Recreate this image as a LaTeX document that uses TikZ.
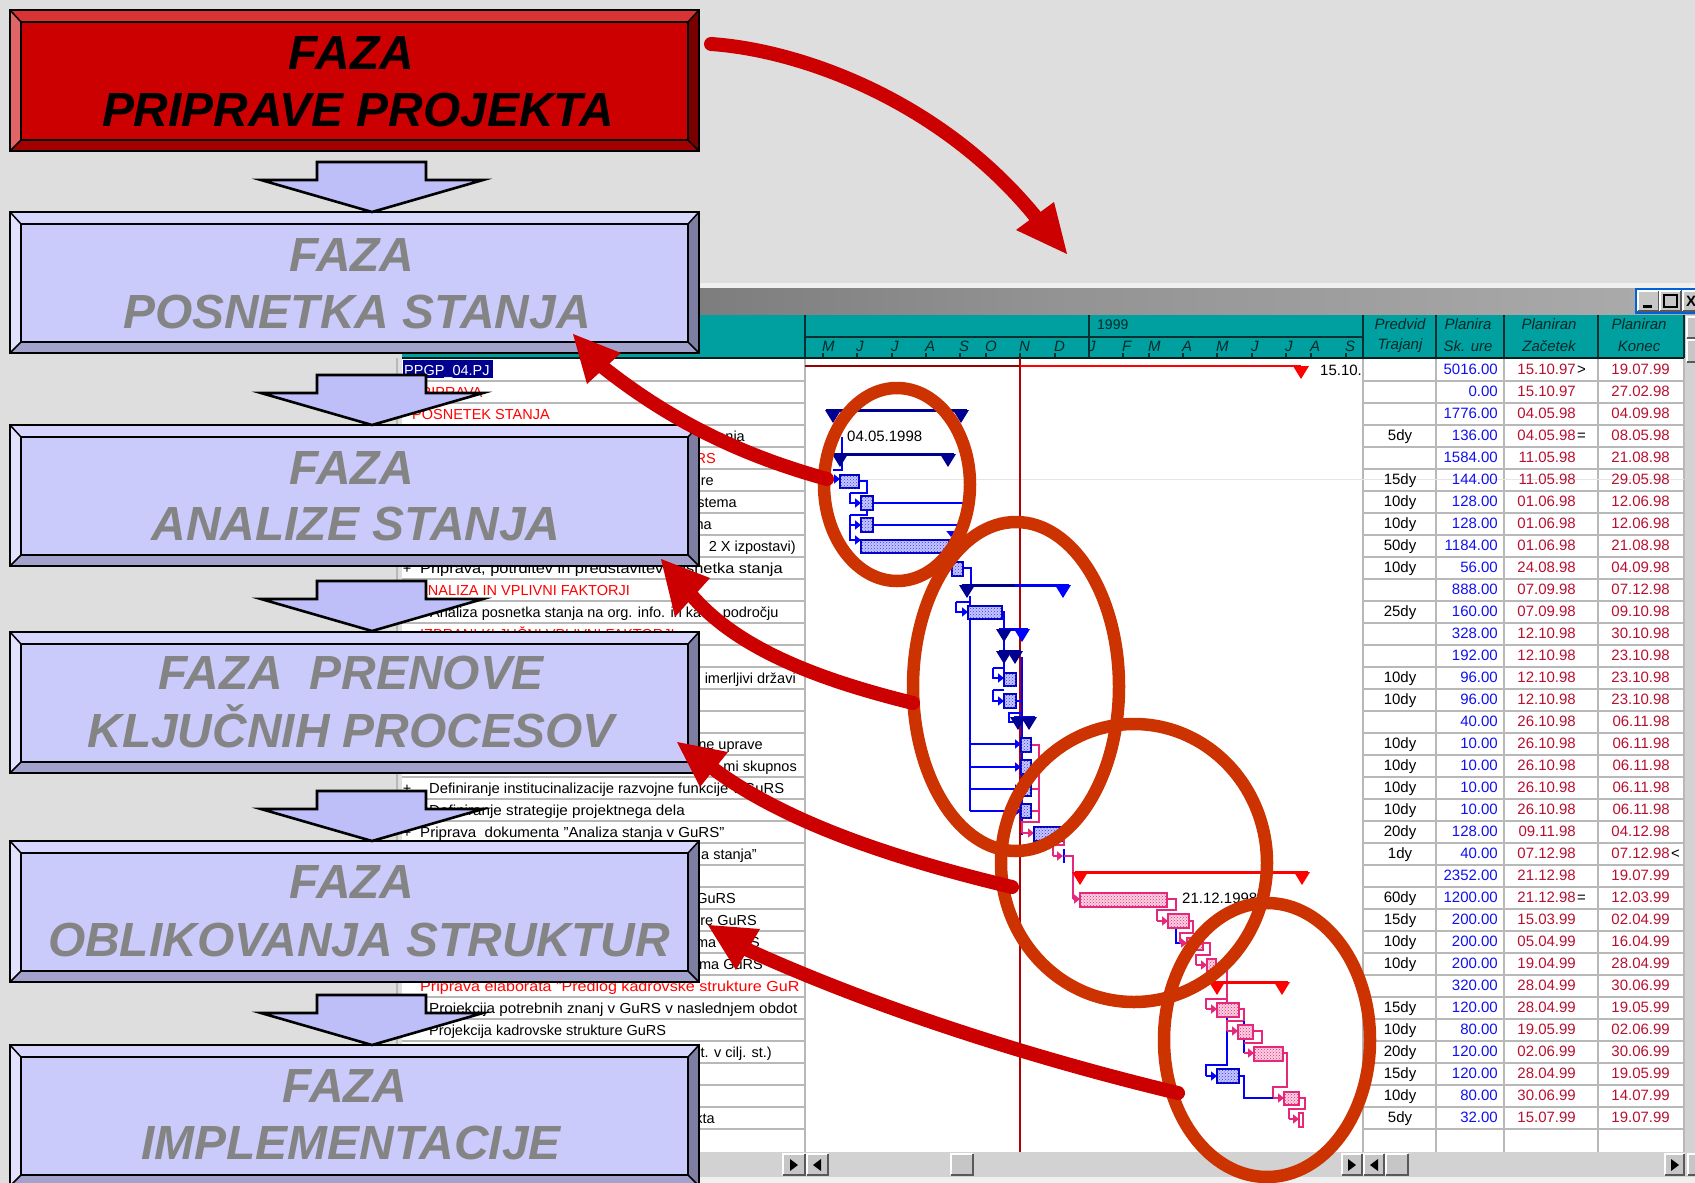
\documentclass[tikz,border=0pt]{standalone}
\usepackage{fontspec}
\setmainfont{Liberation Sans}
\usetikzlibrary{arrows.meta,patterns,calc}
\definecolor{bgc}{HTML}{DEDEDE}
\definecolor{teal1}{HTML}{00A0A0}
\definecolor{gridc}{HTML}{B8B8B8}
\definecolor{numc}{HTML}{1010F0}
\definecolor{datec}{HTML}{B81030}
\definecolor{hdrc}{HTML}{052828}
\definecolor{navyc}{HTML}{000090}
\definecolor{pinkc}{HTML}{E6287A}
\definecolor{ringc}{HTML}{CC3300}
\definecolor{redc}{HTML}{CC0000}
\definecolor{arrowf}{HTML}{BEBEF8}
\definecolor{facep}{HTML}{CACAFB}
\definecolor{topp}{HTML}{D6D6FF}
\definecolor{leftp}{HTML}{E2E2FF}
\definecolor{rightp}{HTML}{7E7EA2}
\definecolor{botp}{HTML}{A2A2CC}
\definecolor{facer}{HTML}{CC0000}
\definecolor{topr}{HTML}{D93333}
\definecolor{leftr}{HTML}{E06666}
\definecolor{rightr}{HTML}{7A0000}
\definecolor{botr}{HTML}{A30000}
\definecolor{ptxt}{HTML}{848484}
\tikzset{
  phasetext/.style={anchor=base,inner sep=0pt,font=\fontsize{47.9}{50}\selectfont\bfseries\itshape},
  celltext/.style={inner sep=0pt,font=\fontsize{15}{16}\selectfont},
  lefttext/.style={inner sep=0pt,font=\fontsize{14.5}{16}\selectfont},
  hdrtext/.style={inner sep=0pt,text=hdrc,font=\fontsize{15}{16}\selectfont\itshape},
  conn/.style={draw=blue,line width=1.5,line join=miter},
  connp/.style={draw=pinkc,line width=1.5,line join=miter},
  tipb/.style={-{Triangle[length=6pt,width=9pt]}},
  ring/.style={draw=ringc,line width=12.5},
  redarrow/.style={draw=redc,line width=14,line cap=round},
  redhead/.style={fill=redc,draw=none},
  bluebar/.style={draw=blue!75!black,line width=1.4,fill=blue!22,postaction={pattern=crosshatch dots,pattern color=blue!80}},
  pinkbar/.style={draw=pinkc,line width=1.4,fill=pinkc!22,postaction={pattern=crosshatch dots,pattern color=pinkc}},
  blockarrow/.style={draw=black,line width=2.6,fill=arrowf,line join=miter},
}
% left column text, west or east anchored on a row
\newcommand\lwest[4][black]{\pgfmathsetmacro\yrow{375+22*#2}\node[lefttext,text=#1,anchor=base west] (L#2) at (#3,\yrow) {#4};}
\newcommand\least[4][black]{\pgfmathsetmacro\yrow{375+22*#2}\node[lefttext,text=#1,anchor=base east] (L#2) at (#3,\yrow) {#4};}
\newcommand\plusrow[1]{\pgfmathsetmacro\yrow{375+22*#1}\node[lefttext,anchor=base] (P#1) at (407,\yrow) {+};}
% summary triangle
\newcommand\tri[3]{\fill[#3] (#1-8,#2) -- (#1+8,#2) -- (#1,#2+13) -- cycle;}
% phase box with bevel; #1 top y, #2 colour set
\newcommand\phasebox[2]{%
 \begin{scope}[shift={(0,#1)}]
  \fill[top#2] (10,0) -- (699,0) -- (688,12) -- (21,12) -- cycle;
  \fill[left#2] (10,0) -- (21,12) -- (21,130) -- (10,141) -- cycle;
  \fill[right#2] (699,0) -- (688,12) -- (688,130) -- (699,141) -- cycle;
  \fill[bot#2] (10,141) -- (21,130) -- (688,130) -- (699,141) -- cycle;
  \fill[face#2] (21,12) rectangle (688,130);
  \draw[black,line width=2.6,line join=miter] (10,0) rectangle (699,141);
  \draw[black,line width=2.6,line join=miter] (21,12) rectangle (688,130);
  \draw[black,line width=1.5] (10,0) -- (21,12) (699,0) -- (688,12) (10,141) -- (21,130) (699,141) -- (688,130);
 \end{scope}}
% block arrow; #1 top y
\newcommand\blockarr[1]{%
 \begin{scope}[shift={(0,#1)}]
  \draw[blockarrow] (317,0) -- (426,0) -- (426,18) -- (483,18) -- (372,50) -- (261,18) -- (317,18) -- cycle;
 \end{scope}}
% scroll button
\newcommand\sbtn[4]{%
  \fill[gray!45] (#1,#3) rectangle (#2,#4);
  \draw[white,line width=1.2] (#1,#4) -- (#1,#3) -- (#2,#3);
  \draw[black!65,line width=1.8] (#1,#4) -- (#2,#4) -- (#2,#3);}
\begin{document}
\begin{tikzpicture}[x=1pt,y=-1pt]
\useasboundingbox (0,0) rectangle (1695,1183);
\clip (0,0) rectangle (1695,1183);
\fill[bgc] (0,0) rectangle (1695,1183);
% window frame
\fill[gray!20] (396,284) rectangle (1695,1183);
\fill[bgc] (396,284) rectangle (402,1183);
\draw[gridc,line width=2] (397,358) -- (397,1152);
\fill[white!94!black] (402,283) rectangle (1695,288);
\shade[left color=gray!95!white!80!black,right color=gray!65,middle color=gray!85] (402,288) rectangle (1695,315);
\fill[teal1] (402,315) rectangle (1684,358);
\fill[white] (402,358) rectangle (1684,1152);
% title buttons
\fill[blue!55!cyan!85!black] (1635,288) rectangle (1695,314);
\sbtn{1638}{1659}{291}{311}
\sbtn{1660}{1681}{291}{311}
\sbtn{1683}{1697}{291}{311}
\fill[black] (1643,305) rectangle (1652,308);
\draw[black,line width=1.5] (1664,295) rectangle (1677,307);
\node[inner sep=0pt,font=\fontsize{15}{16}\selectfont\bfseries] (closeb) at (1691,301) {X};
% right scroll
\fill[gray!35] (1685,315) rectangle (1695,1152);
\sbtn{1687}{1697}{317}{338}
\sbtn{1687}{1697}{340}{362}
% bottom scroll
\fill[gray!35] (402,1152) rectangle (1695,1177);
\fill[gray!12] (402,1177) rectangle (1695,1183);
\sbtn{783}{805}{1154}{1175}
\sbtn{807}{828}{1154}{1175}
\sbtn{951}{973}{1154}{1175}
\sbtn{1342}{1362}{1154}{1175}
\sbtn{1364}{1384}{1154}{1175}
\sbtn{1386}{1408}{1154}{1175}
\sbtn{1665}{1684}{1154}{1175}
\sbtn{1688}{1697}{1154}{1175}
\fill[black] (790,1159) -- (798,1165) -- (790,1171) -- cycle;
\fill[black] (821,1159) -- (813,1165) -- (821,1171) -- cycle;
\fill[black] (1348,1159) -- (1356,1165) -- (1348,1171) -- cycle;
\fill[black] (1378,1159) -- (1370,1165) -- (1378,1171) -- cycle;
\fill[black] (1671,1159) -- (1679,1165) -- (1671,1171) -- cycle;
% grid
\foreach \k in {0,...,34}{
  \pgfmathsetmacro\yl{381+22*\k}
  \draw[gridc,line width=1.5] (402,\yl) -- (805,\yl);
  \draw[gridc,line width=1.5] (1363,\yl) -- (1684,\yl);
}
\foreach \xc in {805,1363,1436,1504,1598,1684}{\draw[gridc,line width=1.5] (\xc,358) -- (\xc,1152);}
\draw[gray!20,line width=0.8] (805,479) -- (1684,479);
% header lines
\draw[black!80!teal1,line width=1.6] (402,358) -- (1684,358);
\foreach \xc in {805,1089,1363,1436,1504,1598,1684}{\draw[black!70!teal1,line width=1.3] (\xc,315) -- (\xc,358);}
\draw[black!70!teal1,line width=1.3] (805,337) -- (1363,337);
\foreach \xm/\lab [count=\c] in {823/M,857/J,892/J,926/A,960/S,986/O,1020/N,1055/D,1089/J,1123/F,1149/M,1183/A,1217/M,1252/J,1286/J,1311/A,1346/S}{
  \draw[black!70!teal1,line width=1.2] (\xm,353) -- (\xm,358);
  \node[hdrtext,anchor=base west] (mon\c) at (\xm-1,351) {\lab};
}
\node[inner sep=0pt,text=hdrc,anchor=base west,font=\fontsize{14}{16}\selectfont] (yr) at (1097,329) {1999};
\node[hdrtext] (h1a) at (1400,324) {Predvid};
\node[hdrtext] (h1b) at (1400,346) {Trajanj};
\node[hdrtext] (h2a) at (1468,324) {Planira};
\node[hdrtext] (h2b) at (1468,346) {Sk. ure};
\node[hdrtext] (h3a) at (1549,324) {Planiran};
\node[hdrtext] (h3b) at (1549,346) {Začetek};
\node[hdrtext] (h4a) at (1639,324) {Planiran};
\node[hdrtext] (h4b) at (1639,346) {Konec};
% table rows
\foreach \rw/\du/\nu/\sd/\ed in {
0//5016.00/15.10.97/19.07.99,1//0.00/15.10.97/27.02.98,2//1776.00/04.05.98/04.09.98,
3/5dy/136.00/04.05.98/08.05.98,4//1584.00/11.05.98/21.08.98,5/15dy/144.00/11.05.98/29.05.98,
6/10dy/128.00/01.06.98/12.06.98,7/10dy/128.00/01.06.98/12.06.98,8/50dy/1184.00/01.06.98/21.08.98,
9/10dy/56.00/24.08.98/04.09.98,10//888.00/07.09.98/07.12.98,11/25dy/160.00/07.09.98/09.10.98,
12//328.00/12.10.98/30.10.98,13//192.00/12.10.98/23.10.98,14/10dy/96.00/12.10.98/23.10.98,
15/10dy/96.00/12.10.98/23.10.98,16//40.00/26.10.98/06.11.98,17/10dy/10.00/26.10.98/06.11.98,
18/10dy/10.00/26.10.98/06.11.98,19/10dy/10.00/26.10.98/06.11.98,20/10dy/10.00/26.10.98/06.11.98,
21/20dy/128.00/09.11.98/04.12.98,22/1dy/40.00/07.12.98/07.12.98,23//2352.00/21.12.98/19.07.99,
24/60dy/1200.00/21.12.98/12.03.99,25/15dy/200.00/15.03.99/02.04.99,26/10dy/200.00/05.04.99/16.04.99,
27/10dy/200.00/19.04.99/28.04.99,28//320.00/28.04.99/30.06.99,29/15dy/120.00/28.04.99/19.05.99,
30/10dy/80.00/19.05.99/02.06.99,31/20dy/120.00/02.06.99/30.06.99,32/15dy/120.00/28.04.99/19.05.99,
33/10dy/80.00/30.06.99/14.07.99,34/5dy/32.00/15.07.99/19.07.99}{
  \pgfmathsetmacro\yrow{374.5+22*\rw}
  \node[celltext,anchor=base] (du\rw) at (1400,\yrow) {\du};
  \node[celltext,anchor=base east,text=numc] (nu\rw) at (1498,\yrow) {\nu};
  \node[celltext,anchor=base east,text=datec] (sd\rw) at (1576,\yrow) {\sd};
  \node[celltext,anchor=base east,text=datec] (ed\rw) at (1670,\yrow) {\ed};
}
\node[celltext,anchor=base west] (s0) at (1577,374.5) {>};
\node[celltext,anchor=base west] (s3) at (1577,440.5) {=};
\node[celltext,anchor=base west] (s24) at (1577,902.5) {=};
\node[celltext,anchor=base west] (s22) at (1671,858.5) {<};
% left column
\fill[navyc] (403,360) rectangle (493,378);
\node[lefttext,text=white,anchor=base west] (L0) at (404,375) {PPGP\_04.PJ};
\lwest[red]{1}{411}{PRIPRAVA}
\lwest[red]{2}{412}{POSNETEK STANJA}
\least{3}{745}{stanja}
\least[red]{4}{716}{RS}
\least{5}{714}{re}
\least{6}{737}{stema}
\least{7}{712}{na}
\least{8}{796}{2 X izpostavi)}
\lwest{9}{420}{\scalebox{1.13}[1]{Priprava, potrditev in predstavitev posnetka stanja}}\plusrow{9}
\lwest[red]{10}{418}{ANALIZA IN VPLIVNI FAKTORJI}
\lwest{11}{430}{Analiza posnetka stanja na org. info. in kadr. področju}
\lwest[red]{12}{420}{IZBRANI KLJUČNI VPLIVNI FAKTORJI}
\least{14}{796}{imerljivi državi}
\least{17}{763}{ne uprave}
\least{18}{797}{mi skupnos}
\lwest{19}{429}{\scalebox{1.02}[1]{Definiranje institucinalizacije razvojne funkcije v GuRS}}\plusrow{19}
\lwest{20}{429}{\scalebox{1.05}[1]{Definiranje strategije projektnega dela}}
\lwest{21}{420}{\scalebox{1.04}[1]{Priprava\ \ dokumenta "Analiza stanja v GuRS"}}\plusrow{21}
\least{22}{757}{a stanja"}
\least{24}{736}{GuRS}
\least{25}{757}{re GuRS}
\least{26}{760}{ma GuRS}
\least{27}{763}{ema GuRS}
\lwest[red]{28}{420}{\scalebox{1.11}[1]{Priprava elaborata "Predlog kadrovske strukture GuR}}
\lwest{29}{429}{\scalebox{1.05}[1]{Projekcija potrebnih znanj v GuRS v naslednjem obdot}}
\lwest{30}{429}{Projekcija kadrovske strukture GuRS}
\least{31}{772}{t. v cilj. st.)}
\least{34}{715}{kta}
% gantt: today line and project bar
\draw[red!70!black,line width=1.2] (1020,358) -- (1020,1152);
\draw[red!60!black,line width=2.8] (805,366) -- (1020,366);
\draw[red,line width=2.8] (1020,366) -- (1301,366);
\tri{1301}{366}{red}
\node[celltext,anchor=base west] (d1510) at (1320,375) {15.10.};
% summary tasks
\draw[navyc,line width=3] (826,410) -- (967,410);
\tri{833}{410}{navyc}\tri{961}{410}{navyc}
\node[celltext,anchor=base west] (d0405) at (847,441) {04.05.1998};
\draw[conn] (842,437) -- (842,470) -- (833,470);
\draw[navyc,line width=3] (834,454) -- (954,454);
\tri{840}{454}{navyc}\tri{948}{454}{navyc}
% phase 1 tasks
\draw[conn,tipb] (832,479) -- (840,479);
\draw[conn] (859,481) -- (867,481) -- (867,493) -- (850,493);
\draw[conn,tipb] (850,493) -- (850,503) -- (861,503);
\draw[conn] (867,510) -- (867,515) -- (850,515);
\draw[conn,tipb] (850,515) -- (850,525) -- (861,525);
\draw[conn,tipb] (850,525) -- (850,540) -- (861,540);
\draw[conn] (873,503) -- (965,503);
\draw[conn] (873,525) -- (965,525);
\draw[conn,tipb] (951,532) -- (951,537);
\draw[bluebar] (840,475) rectangle (859,488);
\draw[bluebar] (861,496) rectangle (873,510);
\draw[bluebar] (861,518) rectangle (873,532);
\draw[bluebar] (861,540) rectangle (949,553);
\draw[bluebar] (952,562) rectangle (963,576);
% phase 2 tasks
\draw[conn] (963,568) -- (971,568) -- (971,585);
\draw[blue,line width=3] (962,585) -- (1069,585);
\draw[navyc,line width=3] (962,585) -- (1015,585);
\tri{967}{585}{navyc}\tri{1063}{585}{blue}
\draw[conn] (970,596) -- (970,811);
\draw[conn] (970,602) -- (956,602);
\draw[conn,tipb] (956,602) -- (956,612) -- (968,612);
\draw[conn] (1002,612) -- (1004,612) -- (1004,678);
\draw[blue,line width=3] (999,629) -- (1028,629);
\tri{1004}{629}{navyc}\tri{1022}{629}{blue}
\draw[navyc,line width=3] (999,651) -- (1021,651);
\tri{1004}{651}{navyc}\tri{1015}{651}{navyc}
\draw[conn] (1022,657) -- (1022,835);
\draw[conn] (1004,668) -- (993,668);
\draw[conn,tipb] (993,668) -- (993,678) -- (1004,678);
\draw[conn] (1004,690) -- (993,690);
\draw[conn,tipb] (993,690) -- (993,701) -- (1004,701);
\draw[conn] (1016,701) -- (1022,701);
\draw[conn] (1022,713) -- (1009,713) -- (1009,722) -- (1016,722);
\draw[blue,line width=3] (1014,717) -- (1035,717);
\tri{1018}{717}{navyc}\tri{1029}{717}{navyc}
\draw[connp] (1031,745) -- (1039,745) -- (1039,822) -- (1022,822) -- (1022,833);
\draw[connp] (1031,767) -- (1039,767);
\draw[connp] (1031,789) -- (1039,789);
\draw[connp] (1031,811) -- (1039,811);
\draw[conn,tipb] (970,744) -- (1021,744);
\draw[conn,tipb] (970,767) -- (1021,767);
\draw[conn,tipb] (970,789) -- (1021,789);
\draw[conn,tipb] (970,811) -- (1021,811);
\draw[connp,tipb] (1022,833) -- (1034,833);
\draw[bluebar] (968,606) rectangle (1002,619);
\draw[bluebar] (1004,673) rectangle (1016,686);
\draw[bluebar] (1004,694) rectangle (1016,708);
\draw[bluebar] (1021,738) rectangle (1031,752);
\draw[bluebar] (1021,760) rectangle (1031,774);
\draw[bluebar] (1021,782) rectangle (1031,796);
\draw[bluebar] (1021,804) rectangle (1031,818);
\draw[connp] (1062,833) -- (1064,833) -- (1064,845) -- (1053,845) -- (1053,856);
\draw[connp,tipb] (1053,856) -- (1063,856);
\draw[conn] (1064,849) -- (1064,863);
\draw[connp] (1064,856) -- (1073,856) -- (1073,899);
\draw[bluebar] (1034,827) rectangle (1062,841);
% phase 3 tasks
\draw[red,line width=3] (1075,872) -- (1308,872);
\tri{1080}{872}{red}\tri{1302}{872}{red}
\draw[connp,tipb] (1073,899) -- (1080,899);
\draw[connp] (1167,899) -- (1176,899) -- (1176,910) -- (1157,910) -- (1157,921);
\draw[connp,tipb] (1157,921) -- (1168,921);
\draw[conn] (1176,928) -- (1176,943) -- (1183,943);
\draw[connp] (1189,921) -- (1193,921) -- (1193,933) -- (1180,933) -- (1180,943);
\draw[connp,tipb] (1180,943) -- (1187,943);
\draw[connp] (1203,943) -- (1210,943) -- (1210,955) -- (1196,955) -- (1196,965);
\draw[connp,tipb] (1196,965) -- (1207,965);
\draw[connp] (1216,965) -- (1227,965) -- (1227,1003);
\draw[pinkbar] (1080,893) rectangle (1167,907);
\draw[pinkbar] (1168,914) rectangle (1189,928);
\draw[pinkbar] (1187,938) rectangle (1203,950);
\draw[pinkbar] (1207,959) rectangle (1216,971);
\node[celltext,anchor=base west] (d2112) at (1182,903) {21.12.1998};
% phase 4 tasks
\draw[red,line width=3] (1212,982) -- (1288,982);
\tri{1217}{982}{red}\tri{1282}{982}{red}
\draw[connp] (1227,999) -- (1206,999) -- (1206,1009);
\draw[connp,tipb] (1206,1009) -- (1217,1009);
\draw[conn] (1227,1003) -- (1227,1065) -- (1206,1065) -- (1206,1076);
\draw[conn,tipb] (1206,1076) -- (1217,1076);
\draw[connp] (1239,1009) -- (1244,1009) -- (1244,1021) -- (1227,1021) -- (1227,1031);
\draw[connp,tipb] (1227,1031) -- (1238,1031);
\draw[conn] (1244,1021) -- (1244,1053);
\draw[connp] (1253,1031) -- (1262,1031) -- (1262,1043) -- (1244,1043);
\draw[connp,tipb] (1244,1053) -- (1254,1053);
\draw[connp] (1283,1053) -- (1287,1053) -- (1287,1087) -- (1273,1087) -- (1273,1098);
\draw[conn] (1239,1076) -- (1244,1076) -- (1244,1098) -- (1273,1098);
\draw[connp,tipb] (1273,1098) -- (1284,1098);
\draw[connp] (1299,1098) -- (1305,1098) -- (1305,1109) -- (1289,1109) -- (1289,1119);
\draw[connp,tipb] (1289,1119) -- (1299,1119);
\draw[pinkbar] (1217,1003) rectangle (1239,1017);
\draw[pinkbar] (1238,1025) rectangle (1253,1039);
\draw[pinkbar] (1254,1047) rectangle (1283,1061);
\draw[bluebar] (1217,1069) rectangle (1239,1083);
\draw[pinkbar] (1284,1092) rectangle (1299,1105);
\draw[connp,fill=white] (1299,1113) rectangle (1303,1127);
% rings
\draw[ring] (897,484.5) ellipse [x radius=73,y radius=96.5];
\draw[ring] (1016,686.5) ellipse [x radius=103,y radius=164.5];
\draw[ring] (1134,863) ellipse [x radius=133,y radius=139];
\draw[ring] (1267,1040) ellipse [x radius=103,y radius=137];
% phase boxes
\phasebox{10}{r}
\phasebox{212}{p}
\phasebox{425}{p}
\phasebox{632}{p}
\phasebox{841}{p}
\phasebox{1045}{p}
\blockarr{162}
\blockarr{375}
\blockarr{581}
\blockarr{791}
\blockarr{995}
\node[phasetext,text=black] (p1a) at (351.5,69) {FAZA};
\node[phasetext,text=black] (p1b) at (358,126) {PRIPRAVE PROJEKTA};
\node[phasetext,text=ptxt] (p2a) at (352,271) {FAZA};
\node[phasetext,text=ptxt] (p2b) at (357,328) {POSNETKA STANJA};
\node[phasetext,text=ptxt] (p3a) at (352,484) {FAZA};
\node[phasetext,text=ptxt] (p3b) at (356,540) {ANALIZE STANJA};
\node[phasetext,text=ptxt] (p4a) at (351,689) {FAZA\ \ PRENOVE};
\node[phasetext,text=ptxt] (p4b) at (351,747) {KLJUČNIH PROCESOV};
\node[phasetext,text=ptxt] (p5a) at (352,898) {FAZA};
\node[phasetext,text=ptxt] (p5b) at (359,956) {OBLIKOVANJA STRUKTUR};
\node[phasetext,text=ptxt] (p6a) at (345,1102) {FAZA};
\node[phasetext,text=ptxt] (p6b) at (351,1159) {IMPLEMENTACIJE};
% red arrows
\coordinate (a0) at (711,44);
\coordinate (a1) at (1035,216);
\draw[redarrow] (a0) .. controls (800,50) and (940,100) .. (a1);
\fill[redhead] (1067,254) -- (1054,202) -- (1016,230) -- cycle;
\coordinate (b0) at (827,479);
\coordinate (b1) at (604,368);
\draw[redarrow] (b0) .. controls (740,455) and (670,420) .. (b1);
\fill[redhead] (573,334) -- (621,353) -- (587,384) -- cycle;
\coordinate (c0) at (913,703);
\coordinate (c1) at (693,597);
\draw[redarrow] (c0) .. controls (820,680) and (740,650) .. (c1);
\fill[redhead] (661,559) -- (710,578) -- (675,617) -- cycle;
\coordinate (d0) at (1012,887);
\coordinate (d1) at (715,770);
\draw[redarrow] (d0) .. controls (900,860) and (790,825) .. (d1);
\fill[redhead] (677,742) -- (728,752) -- (700,787) -- cycle;
\coordinate (e0) at (1178,1093);
\coordinate (e1) at (748,950);
\draw[redarrow] (e0) .. controls (1040,1060) and (880,1010) .. (e1);
\fill[redhead] (708,925) -- (760,929) -- (736,970) -- cycle;
\end{tikzpicture}
\end{document}
